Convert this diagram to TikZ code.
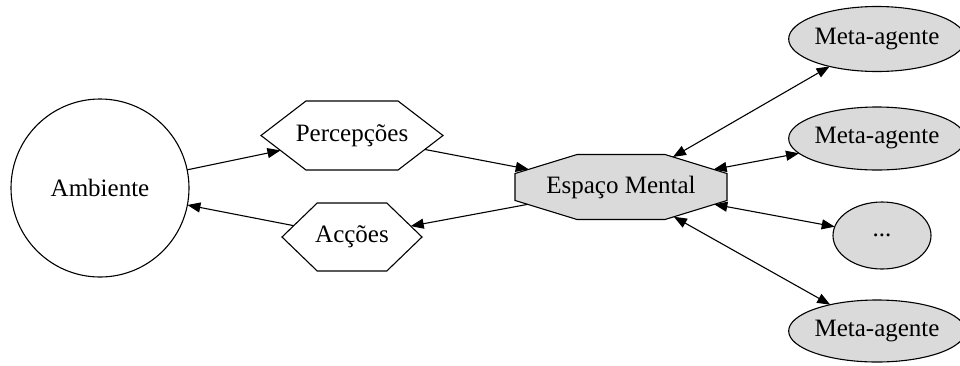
\documentclass[tikz,border=0pt]{standalone}
\usepackage{fontspec}
\setmainfont{Liberation Serif}
\usetikzlibrary{shapes.geometric,shapes.symbols,arrows.meta}
\definecolor{agentfill}{RGB}{218,218,218}
% zero-width text, so that a hexagon is sized by its minimum sizes alone
\newcommand{\slimtext}[1]{\makebox[0pt]{#1}}
\begin{document}
\begin{tikzpicture}[x=1pt,y=-1pt,
  base/.style={draw, line width=1.1pt, inner sep=0pt, outer sep=0pt, font=\fontsize{25}{29}\selectfont},
  world/.style={base, circle, minimum size=178pt},
  hexbox/.style={base, signal, signal to=west and east},
  % stretched regular octagon: 20pt circumcircle, flat sides 18.48pt apart
  mindbox/.style={draw, line width=1.1pt, inner sep=0pt, outer sep=0pt, fill=agentfill,
    regular polygon, regular polygon sides=8, minimum size=20pt,
    xscale=11.47, yscale=3.52, transform shape},
  label/.style={inner sep=0pt, font=\fontsize{25}{29}\selectfont},
  agent/.style={base, ellipse, fill=agentfill},
  tip/.tip={Triangle[length=13pt,width=10pt]},
  link/.style={line width=1.1pt, -tip},
  duplink/.style={line width=1.1pt, tip-tip}
]
\useasboundingbox (0,0) rectangle (960,365);

\node[world] (amb) at (100,188) {Ambiente};
\node[hexbox, signal pointer angle=75, minimum width=182pt, minimum height=69pt] (perc) at (352,135.5) {\slimtext{Percepções}};
\node[hexbox, signal pointer angle=88, minimum width=140pt, minimum height=68pt] (acc) at (352,237) {\slimtext{Acções}};
\node[mindbox] (mind) at (621,187) {};
\node[label] (mindtext) at (mind.center) {Espaço Mental};

\node[agent, minimum width=162pt, minimum height=65pt] (m1) at (877,39) {Meta-agente};
\node[agent, minimum width=162pt, minimum height=63pt] (m2) at (877,138.5) {Meta-agente};
\node[agent, minimum width=98pt, minimum height=67pt] (m3) at (882,235.5) {...};
\node[agent, minimum width=162pt, minimum height=62pt] (m4) at (877,331) {Meta-agente};

\draw[link] (amb) -- (perc);
\draw[link] (perc) -- (mind);
\draw[link] (mind) -- (acc);
\draw[link] (acc) -- (amb);
\draw[duplink] (mind) -- (m1);
\draw[duplink] (mind) -- (m2);
\draw[duplink] (mind) -- (m3);
\draw[duplink] (mind) -- (m4);
\end{tikzpicture}
\end{document}
